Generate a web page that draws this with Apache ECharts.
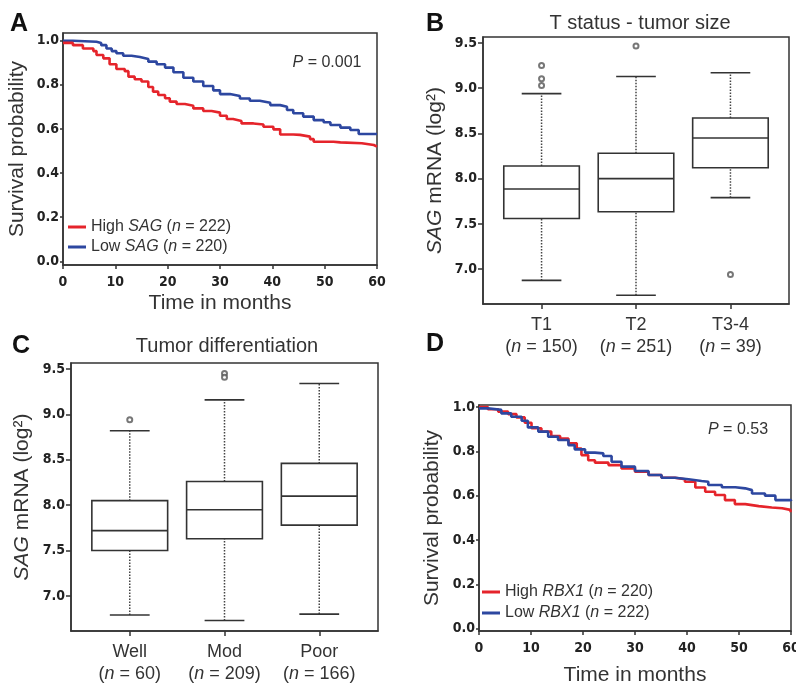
<!DOCTYPE html>
<html>
<head>
<meta charset="utf-8">
<script src="https://cdn.jsdelivr.net/npm/echarts@6/dist/echarts.min.js"></script>
<style>
  html, body { margin: 0; padding: 0; background: #fff; }
  #fig { width: 796px; height: 684px; }
</style>
</head>
<body>
<div id="fig"></div>
<script>
// ---- A: survival by SAG level ----
var sagHighT = [0, 1.9, 3.8, 5.8, 6.4, 7.7, 8.9, 10.2, 11.8, 12.5, 13.7, 15.0, 16.3, 17.2, 18.2, 19.5, 20.4, 21.7, 23.3, 24.9, 26.8, 28.4, 30.0, 31.3, 32.5, 34.1, 36.4, 38.3, 40.2, 41.5, 44.0, 45.3, 47.2, 47.9, 51.7, 53.0, 57.1, 59.4, 60];
var sagHighS = [0.99, 0.98, 0.965, 0.953, 0.935, 0.92, 0.893, 0.872, 0.862, 0.837, 0.825, 0.815, 0.79, 0.769, 0.754, 0.739, 0.724, 0.713, 0.705, 0.693, 0.681, 0.674, 0.66, 0.645, 0.636, 0.625, 0.62, 0.61, 0.598, 0.575, 0.573, 0.565, 0.554, 0.542, 0.539, 0.535, 0.527, 0.52, 0.52];
var sagLowT = [0, 1.9, 6.4, 7.3, 8.3, 9.3, 10.2, 11.5, 13.1, 14.7, 16.3, 17.9, 19.5, 21.1, 23.0, 24.9, 26.8, 28.7, 30.0, 31.9, 33.8, 35.7, 37.6, 39.6, 41.5, 42.8, 44.0, 45.9, 47.9, 49.8, 51.1, 53.0, 54.9, 56.5, 60];
var sagLowS = [1.0, 0.995, 0.99, 0.98, 0.965, 0.953, 0.943, 0.932, 0.926, 0.917, 0.905, 0.893, 0.878, 0.857, 0.832, 0.815, 0.795, 0.775, 0.758, 0.749, 0.738, 0.728, 0.719, 0.708, 0.701, 0.686, 0.671, 0.656, 0.64, 0.63, 0.618, 0.606, 0.595, 0.577, 0.577];

// ---- D: survival by RBX1 level ----
var rbxHighT = [0, 1.7, 3.7, 5.6, 7.2, 8.8, 10.1, 12.0, 13.9, 15.6, 17.2, 18.8, 19.7, 21.0, 22.3, 24.9, 27.4, 30.0, 32.6, 35.1, 37.7, 39.6, 41.6, 43.5, 45.4, 47.3, 49.2, 51.2, 53.8, 56.3, 58.3, 59.9, 60];
var rbxHighS = [1.0, 0.99, 0.979, 0.968, 0.953, 0.929, 0.904, 0.889, 0.869, 0.858, 0.836, 0.813, 0.783, 0.76, 0.749, 0.738, 0.723, 0.708, 0.693, 0.681, 0.674, 0.663, 0.637, 0.618, 0.603, 0.58, 0.562, 0.553, 0.547, 0.543, 0.536, 0.525, 0.525];
var rbxLowT = [0, 1.7, 4.3, 6.2, 8.2, 9.4, 11.4, 13.3, 15.2, 17.2, 18.4, 20.4, 22.3, 23.9, 25.5, 27.4, 30.0, 32.6, 35.1, 37.7, 40.3, 42.8, 44.1, 46.7, 49.3, 51.2, 52.5, 55.0, 57.0, 60];
var rbxLowS = [0.994, 0.987, 0.971, 0.956, 0.938, 0.908, 0.889, 0.866, 0.851, 0.828, 0.809, 0.794, 0.791, 0.779, 0.753, 0.731, 0.711, 0.693, 0.681, 0.674, 0.666, 0.663, 0.648, 0.638, 0.633, 0.625, 0.61, 0.6, 0.58, 0.576];

var survTicks = [0, 0.2, 0.4, 0.6, 0.8, 1.0];
var mrnaTicks = [7.0, 7.5, 8.0, 8.5, 9.0, 9.5];

// ---- B: T status ----
var tCats = ['T1', 'T2', 'T3-4'];
var tN = [150, 251, 39];
var tMin = [6.875, 6.71, 7.79];
var tQ1 = [7.56, 7.634, 8.12];
var tMed = [7.885, 8.0, 8.45];
var tQ3 = [8.14, 8.28, 8.67];
var tMax = [8.94, 9.13, 9.17];
var tOutX = [1, 1, 1, 2, 3];
var tOutY = [9.25, 9.105, 9.03, 9.467, 6.94];

// ---- C: differentiation ----
var dCats = ['Well', 'Mod', 'Poor'];
var dN = [60, 209, 166];
var dMin = [6.79, 6.73, 6.80];
var dQ1 = [7.50, 7.63, 7.78];
var dMed = [7.72, 7.95, 8.10];
var dQ3 = [8.05, 8.26, 8.46];
var dMax = [8.82, 9.16, 9.34];
var dOutX = [1, 2, 2];
var dOutY = [8.94, 9.45, 9.41];

var RED = '#e5242b';
var BLUE = '#2d47a0';
var INK = '#333';
var tickFont = "'Liberation Sans Narrow', 'DejaVu Sans Condensed', sans-serif";
var textFont = "'Liberation Sans', Arial, sans-serif";

function zip(a, b) { return a.map(function (v, i) { return [v, b[i]]; }); }
function boxRows(mn, q1, md, q3, mx) {
  return mn.map(function (v, i) { return [i + 1, v, q1[i], md[i], q3[i], mx[i]]; });
}

var chart = echarts.init(document.getElementById('fig'));

function renderBox(params, api) {
  var x = api.value(0);
  var hw = api.size([0.4, 0])[0];
  var cw = api.size([0.21, 0])[0];
  var pMin = api.coord([x, api.value(1)]);
  var pQ1 = api.coord([x, api.value(2)]);
  var pMed = api.coord([x, api.value(3)]);
  var pQ3 = api.coord([x, api.value(4)]);
  var pMax = api.coord([x, api.value(5)]);
  var solid = { stroke: INK, lineWidth: 1.6 };
  var dot = { stroke: '#444', lineWidth: 1.5, lineDash: [1.5, 1.5] };
  return {
    type: 'group',
    children: [
      { type: 'line', shape: { x1: pMin[0], y1: pMin[1], x2: pQ1[0], y2: pQ1[1] }, style: dot },
      { type: 'line', shape: { x1: pQ3[0], y1: pQ3[1], x2: pMax[0], y2: pMax[1] }, style: dot },
      { type: 'line', shape: { x1: pMin[0] - cw, y1: pMin[1], x2: pMin[0] + cw, y2: pMin[1] }, style: solid },
      { type: 'line', shape: { x1: pMax[0] - cw, y1: pMax[1], x2: pMax[0] + cw, y2: pMax[1] }, style: solid },
      { type: 'rect', shape: { x: pQ3[0] - hw, y: pQ3[1], width: hw * 2, height: pQ1[1] - pQ3[1] },
        style: { stroke: INK, lineWidth: 1.6, fill: '#fff' } },
      { type: 'line', shape: { x1: pMed[0] - hw, y1: pMed[1], x2: pMed[0] + hw, y2: pMed[1] }, style: solid }
    ]
  };
}

function kmX(grid, nameGap) {
  return {
    type: 'value', gridIndex: grid, min: 0, max: 60, interval: 10,
    name: 'Time in months', nameLocation: 'middle', nameGap: nameGap, nameMoveOverlap: false,
    nameTextStyle: { fontFamily: textFont, fontSize: 21, color: INK },
    axisLine: { show: true, onZero: false, lineStyle: { color: INK, width: 1.5 } },
    axisTick: { show: true, length: 4, lineStyle: { color: INK, width: 1.5 } },
    axisLabel: { margin: 10, fontFamily: tickFont, fontWeight: 'bold', fontSize: 14, color: '#222' },
    splitLine: { show: false }
  };
}
function kmY(grid, min, max, nameGap) {
  return {
    type: 'value', gridIndex: grid, min: min, max: max,
    name: 'Survival probability', nameLocation: 'middle', nameGap: nameGap, nameMoveOverlap: false,
    nameTextStyle: { fontFamily: textFont, fontSize: 21, color: INK },
    axisLine: { show: true, onZero: false, lineStyle: { color: INK, width: 1.5 } },
    axisTick: { show: true, length: 3, customValues: survTicks, lineStyle: { color: INK, width: 1.5 } },
    axisLabel: { margin: 4, customValues: survTicks, fontFamily: tickFont, fontWeight: 'bold', fontSize: 14, color: '#222',
      formatter: function (v) { return v.toFixed(1); } },
    splitLine: { show: false }
  };
}
function boxX(grid, cats, ns) {
  return {
    type: 'value', gridIndex: grid, min: 0.38, max: 3.62,
    axisLine: { show: true, onZero: false, lineStyle: { color: INK, width: 1.5 } },
    axisTick: { show: true, length: 5, customValues: [1, 2, 3], lineStyle: { color: INK, width: 1.5 } },
    axisLabel: {
      margin: 10, customValues: [1, 2, 3], fontFamily: textFont, fontSize: 18, color: INK, lineHeight: 22,
      formatter: function (v) { return cats[v - 1] + '\n({i|n} = ' + ns[v - 1] + ')'; },
      rich: { i: { fontStyle: 'italic', fontFamily: textFont, fontSize: 18, color: INK, lineHeight: 22 } }
    },
    splitLine: { show: false }
  };
}
function boxY(grid, nameGap) {
  return {
    type: 'value', gridIndex: grid, min: 6.614, max: 9.566,
    name: '{i|SAG} mRNA (log²)', nameLocation: 'middle', nameGap: nameGap, nameMoveOverlap: false,
    nameTextStyle: { fontFamily: textFont, fontSize: 21, color: INK,
      rich: { i: { fontStyle: 'italic', fontFamily: textFont, fontSize: 21, color: INK } } },
    axisLine: { show: true, onZero: false, lineStyle: { color: INK, width: 1.5 } },
    axisTick: { show: true, length: 5, customValues: mrnaTicks, lineStyle: { color: INK, width: 1.5 } },
    axisLabel: { margin: 6, customValues: mrnaTicks, fontFamily: tickFont, fontWeight: 'bold', fontSize: 14, color: '#222',
      formatter: function (v) { return v.toFixed(1); } },
    splitLine: { show: false }
  };
}
function kmLine(name, grid, t, s, color) {
  return {
    name: name, type: 'line', xAxisIndex: grid, yAxisIndex: grid, step: 'end',
    data: zip(t, s), showSymbol: false, symbol: 'none', animation: false,
    lineStyle: { color: color, width: 2.6 }, itemStyle: { color: color }
  };
}
function outliers(grid, xs, ys) {
  return {
    type: 'scatter', xAxisIndex: grid, yAxisIndex: grid, data: zip(xs, ys),
    symbol: 'emptyCircle', symbolSize: 5, animation: false, z: 5,
    itemStyle: { color: '#555', borderColor: '#555', borderWidth: 1 }
  };
}

var legendRich = {
  i: { fontStyle: 'italic', fontFamily: textFont, fontSize: 16, color: INK }
};
var legendNames = {
  'High SAG (n = 222)': 'High {i|SAG} ({i|n} = 222)',
  'Low SAG (n = 220)': 'Low {i|SAG} ({i|n} = 220)',
  'High RBX1 (n = 220)': 'High {i|RBX1} ({i|n} = 220)',
  'Low RBX1 (n = 222)': 'Low {i|RBX1} ({i|n} = 222)'
};
function legendAt(left, top, gap, names) {
  return {
    left: left, top: top, orient: 'vertical', itemGap: gap, padding: 0,
    icon: 'rect', itemWidth: 18, itemHeight: 3,
    data: names,
    formatter: function (n) { return legendNames[n]; },
    textStyle: { fontFamily: textFont, fontSize: 16, color: INK, lineHeight: 16, rich: legendRich }
  };
}
function letter(txt, x, y) {
  return { type: 'text', x: x, y: y,
    style: { text: txt, align: 'center', verticalAlign: 'middle', fontFamily: textFont, fontWeight: 'bold', fontSize: 25, fill: '#111' } };
}
function label(txt, x, y, size, rich) {
  return { type: 'text', x: x, y: y,
    style: { text: txt, align: 'center', verticalAlign: 'middle', fontFamily: textFont, fontSize: size, fill: INK, rich: rich || {} } };
}
var pRich = { i: { fontStyle: 'italic', fontFamily: textFont, fontSize: 16, fill: INK } };

var frame = { show: true, borderColor: INK, borderWidth: 1.5, backgroundColor: 'transparent', outerBoundsMode: 'none' };

chart.setOption({
  backgroundColor: '#fff',
  animation: false,
  grid: [
    Object.assign({ left: 63, top: 33, width: 314, height: 232 }, frame),
    Object.assign({ left: 483, top: 37, width: 306, height: 267 }, frame),
    Object.assign({ left: 71, top: 363, width: 307, height: 268 }, frame),
    Object.assign({ left: 479, top: 405, width: 312, height: 226 }, frame)
  ],
  xAxis: [kmX(0, 28), boxX(1, tCats, tN), boxX(2, dCats, dN), kmX(3, 34)],
  yAxis: [kmY(0, -0.017, 1.035, 35), boxY(1, 37), boxY(2, 38), kmY(3, -0.0104, 1.009, 36)],
  legend: [
    legendAt(68, 219, 4, ['High SAG (n = 222)', 'Low SAG (n = 220)']),
    legendAt(482, 584, 5, ['High RBX1 (n = 220)', 'Low RBX1 (n = 222)'])
  ],
  graphic: [
    letter('A', 19, 24),
    letter('B', 435, 24),
    letter('C', 21, 346),
    letter('D', 435, 344),
    label('T status - tumor size', 640, 23, 20),
    label('Tumor differentiation', 227, 346, 20),
    label('{i|P} = 0.001', 327, 63, 16, pRich),
    label('{i|P} = 0.53', 738, 430, 16, pRich)
  ],
  series: [
    kmLine('Low SAG (n = 220)', 0, sagLowT, sagLowS, BLUE),
    kmLine('High SAG (n = 222)', 0, sagHighT, sagHighS, RED),
    {
      type: 'custom', xAxisIndex: 1, yAxisIndex: 1, renderItem: renderBox, animation: false,
      encode: { x: 0, y: [1, 2, 3, 4, 5] },
      data: boxRows(tMin, tQ1, tMed, tQ3, tMax)
    },
    outliers(1, tOutX, tOutY),
    {
      type: 'custom', xAxisIndex: 2, yAxisIndex: 2, renderItem: renderBox, animation: false,
      encode: { x: 0, y: [1, 2, 3, 4, 5] },
      data: boxRows(dMin, dQ1, dMed, dQ3, dMax)
    },
    outliers(2, dOutX, dOutY),
    kmLine('High RBX1 (n = 220)', 3, rbxHighT, rbxHighS, RED),
    kmLine('Low RBX1 (n = 222)', 3, rbxLowT, rbxLowS, BLUE)
  ]
});
</script>
</body>
</html>
